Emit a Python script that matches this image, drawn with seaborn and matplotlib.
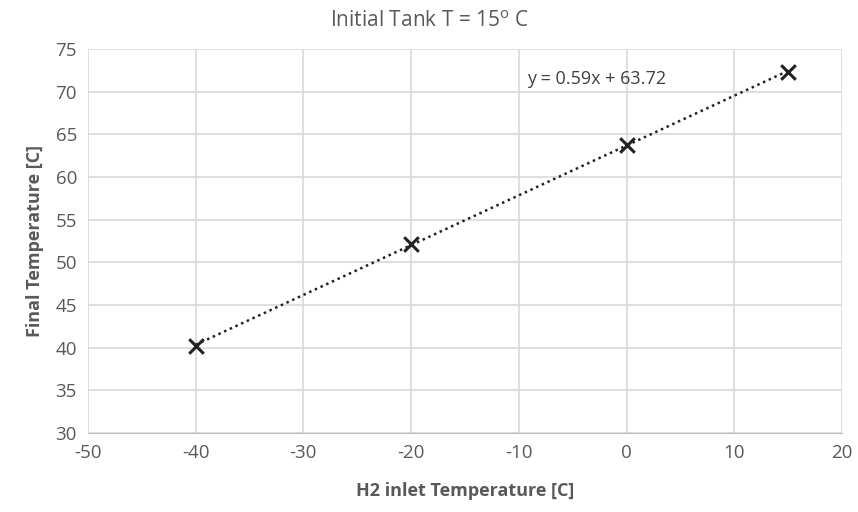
import numpy as np
import pandas as pd
import matplotlib
matplotlib.use("Agg")
import matplotlib.pyplot as plt
import seaborn as sns

inlet_temp = [-40, -20, 0, 15]
final_temp = [40.2, 52.2, 63.8, 72.3]
title = "Initial Tank T = 15$^{\\mathregular{o}}$ C"
xlabel = "H2 inlet Temperature [C]"
ylabel = "Final Temperature [C]"
equation = "y = 0.59x + 63.72"
xticks = [-50, -40, -30, -20, -10, 0, 10, 20]
yticks = [30, 35, 40, 45, 50, 55, 60, 65, 70, 75]

sns.set_style("white")
plt.rcParams['font.family'] = ['Open Sans', 'DejaVu Sans']
plt.rcParams['axes.unicode_minus'] = False

df = pd.DataFrame({"x": inlet_temp, "y": final_temp})
slope, intercept = np.polyfit(df["x"], df["y"], 1)
xs = np.array([min(inlet_temp), max(inlet_temp)])

fig = plt.figure(figsize=(8.58, 5.12), dpi=100)
ax = fig.add_axes([88/858, 1-433/512, (842-88)/858, (433-49)/512])

ax.plot(xs, slope*xs + intercept, linestyle=(0, (1, 1.5)), color="#222222", lw=1.8, zorder=2)
sns.scatterplot(data=df, x="x", y="y", marker="x", s=110, color="#222222", linewidth=2.2, ax=ax, zorder=3)

ax.set_xlim(-50, 20)
ax.set_ylim(30, 75)
ax.set_xticks(xticks)
ax.set_yticks(yticks)
ax.grid(True, color="#d9d9d9", lw=1.2)
ax.set_axisbelow(True)
for s in ["top", "right", "left"]:
    ax.spines[s].set_visible(False)
ax.spines["bottom"].set_color("#bfbfbf")
ax.tick_params(axis="both", length=0, labelsize=13.5, colors="#595959", pad=8)
ax.set_xlabel(xlabel, fontsize=13, fontweight="bold", color="#595959", labelpad=14)
ax.set_ylabel(ylabel, fontsize=13, fontweight="bold", color="#595959", labelpad=8)
fig.suptitle(title, y=0.978, fontsize=15, color="#595959", va="top")
ax.text(-9.2, 70.9, equation, fontsize=13, color="#404040")

fig.savefig("out.png", dpi=100)
